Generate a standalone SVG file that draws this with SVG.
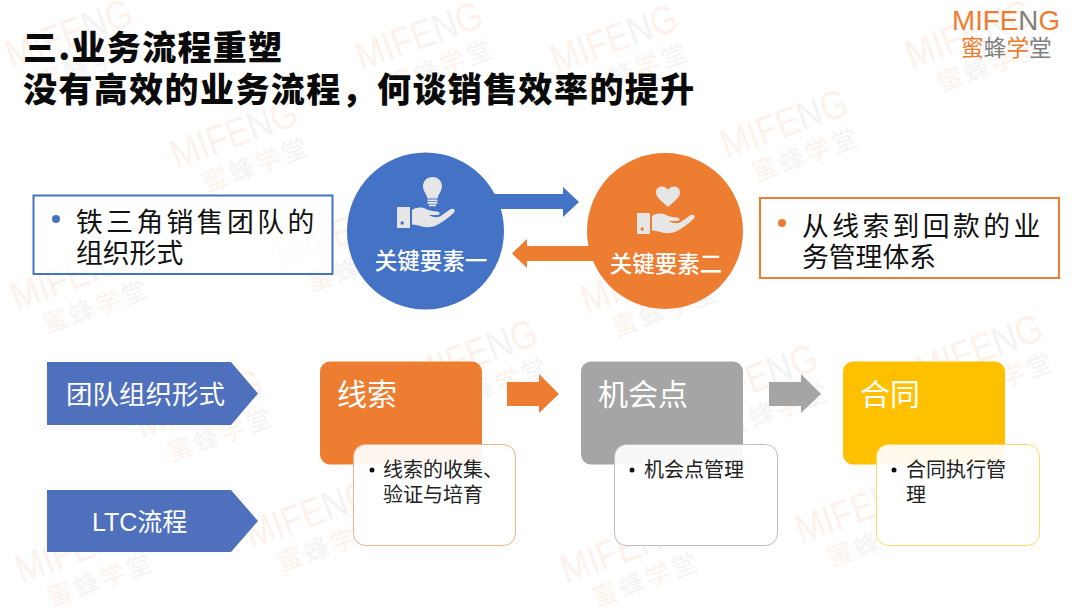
<svg xmlns="http://www.w3.org/2000/svg" width="1080" height="608" viewBox="0 0 1080 608">
<style>
text{font-family:"Noto Sans CJK SC","Noto Sans",sans-serif}
.lat{font-family:"Liberation Sans","Noto Sans CJK SC",sans-serif}
.t{font-size:26.800px;fill:#111}
.c{font-size:22.500px;fill:#fff;font-weight:500;text-anchor:middle}
.p{font-size:26.500px;fill:#fff}
.h{font-size:30px;fill:#fff}
.s{font-size:20px;fill:#222}
.ti{font-size:34px;font-weight:900;fill:#0a0a0a}
.o{fill:#ED7D31}.g{fill:#7F7F7F}
.icon{fill:#E7E6E6}
.wm text{opacity:.09}
</style>
<defs>
<g id="wm" class="wm">
<text x="-66" y="-4" class="lat" font-size="40" textLength="132" lengthAdjust="spacingAndGlyphs"><tspan fill="#ED7D31">MIF</tspan><tspan fill="#ED7D31">E</tspan><tspan fill="#7F7F7F">N</tspan><tspan fill="#ED7D31">G</tspan></text>
<text x="-46" y="28" font-size="25" letter-spacing="3"><tspan fill="#ED7D31">蜜</tspan><tspan fill="#7F7F7F">蜂</tspan><tspan fill="#ED7D31">学</tspan><tspan fill="#7F7F7F">堂</tspan></text>
</g>
<g id="hand">
<path fill-rule="evenodd" d="M-30 10h13v21h-13zM-26.500 26a1.700 1.700 0 1 0 3.400 0a1.700 1.700 0 1 0-3.400 0z"/>
<path d="M-15 13c5-3 10-3 14-1c3 1.500 7 2.500 11 2.500c3 0 3.500 3 1 3.500l-9 0c3 2 7 3 11 1.500l10-7c3-2 6 0 4 3c-5 5-12 10-18 13c-4 2-10 2-14 1c-3-1-7-2-10-2z"/>
</g>
</defs>
<rect width="1080" height="608" fill="#fff"/>
<g id="watermarks">
<use href="#wm" transform="translate(75 50) rotate(-20)"/>
<use href="#wm" transform="translate(425 52) rotate(-20)"/>
<use href="#wm" transform="translate(620 55) rotate(-20)"/>
<use href="#wm" transform="translate(975 50) rotate(-20)"/>
<use href="#wm" transform="translate(240 150) rotate(-20)"/>
<use href="#wm" transform="translate(790 140) rotate(-20)"/>
<use href="#wm" transform="translate(345 250) rotate(-20)"/>
<use href="#wm" transform="translate(80 292) rotate(-20)"/>
<use href="#wm" transform="translate(650 295) rotate(-20)"/>
<use href="#wm" transform="translate(985 365) rotate(-20)"/>
<use href="#wm" transform="translate(480 370) rotate(-20)"/>
<use href="#wm" transform="translate(205 420) rotate(-20)"/>
<use href="#wm" transform="translate(760 395) rotate(-20)"/>
<use href="#wm" transform="translate(315 530) rotate(-20)"/>
<use href="#wm" transform="translate(865 525) rotate(-20)"/>
<use href="#wm" transform="translate(85 565) rotate(-20)"/>
<use href="#wm" transform="translate(630 565) rotate(-20)"/>
</g>
<g id="title">
<text class="ti" x="23" y="60" letter-spacing="1.300">三.业务流程重塑</text>
<text class="ti" x="23" y="102" letter-spacing="1.400">没有高效的业务流程，何谈销售效率的提升</text>
</g>
<g id="logo">
<text x="952" y="30" class="lat" font-size="28" textLength="108" lengthAdjust="spacingAndGlyphs"><tspan class="o">MIF</tspan><tspan class="o">E</tspan><tspan class="g">N</tspan><tspan class="o">G</tspan></text>
<text x="961" y="56" font-size="22.700"><tspan class="o">蜜</tspan><tspan class="g">蜂</tspan><tspan class="o">学</tspan><tspan class="g">堂</tspan></text>
</g>
<g id="connectors">
<path fill="#4472C4" d="M485 194H563V187L579 202L563 217V209H485Z"/>
<path fill="#ED7D31" d="M610 246H527V239L512 253.500L527 268V261H610Z"/>
<path fill="#ED7D31" d="M507 382H539V374L559 394L539 413V406H507Z"/>
<path fill="#A5A5A5" d="M769 382H801V374L821 394L801 413V406H769Z"/>
</g>
<g id="box-left">
<rect x="33.500" y="195.500" width="299" height="78.500" fill="#fff" fill-opacity=".75" stroke="#4472C4" stroke-width="2"/>
<circle cx="56" cy="219" r="4" fill="#4472C4"/>
<text class="t" x="76" y="232" letter-spacing="3.400">铁三角销售团队的</text>
<text class="t" x="76" y="263">组织形式</text>
</g>
<g id="box-right">
<rect x="760" y="198" width="299" height="80" fill="#fff" fill-opacity=".75" stroke="#ED7D31" stroke-width="2"/>
<circle cx="782" cy="223" r="4" fill="#ED7D31"/>
<text class="t" x="802" y="236" letter-spacing="3.400">从线索到回款的业</text>
<text class="t" x="802" y="267">务管理体系</text>
</g>
<g id="key-1">
<circle cx="425.500" cy="231" r="78.500" fill="#4472C4"/>
<g class="icon">
<path d="M432.500 177c-5.500 0-9.500 4-9.500 9.500c0 4.500 3.500 7 4.500 12h10c1-5 4.500-7.500 4.500-12c0-5.500-4-9.500-9.500-9.500z"/>
<path d="M427.500 199.500h10v1.800h-10zM427.500 202h10v1.800h-10zM429 204.500h7v1.800h-7z"/>
<use href="#hand" transform="translate(427 197)"/>
</g>
<text class="c" x="431" y="269">关键要素一</text>
</g>
<g id="key-2">
<circle cx="665" cy="231" r="78" fill="#ED7D31"/>
<g class="icon">
<path d="M668 207c-5-5-12-9-12-14.500c0-3.500 2.500-6 5.800-6c2.800 0 4.800 1.500 6.200 3.500c1.400-2 3.400-3.500 6.200-3.500c3.300 0 5.800 2.500 5.800 6c0 5.500-7 9.500-12 14.500z"/>
<use href="#hand" transform="translate(667 203)"/>
</g>
<text class="c" x="666" y="272">关键要素二</text>
</g>
<g id="step-team">
<path fill="#4E70BD" d="M47 362H231L258 393.500L231 425H47Z"/>
<text class="p" x="66" y="404">团队组织形式</text>
</g>
<g id="step-ltc">
<path fill="#4E70BD" d="M47 490H231L258 521L231 552H47Z"/>
<text class="p lat" x="92" y="531" font-size="25" style="font-size:25px">LTC流程</text>
</g>
<g id="card-1">
<rect x="320" y="361.500" width="162" height="103" rx="10" fill="#ED7D31"/>
<text class="h" x="337" y="405">线索</text>
<rect x="353.500" y="444.500" width="162" height="101" rx="12" fill="#fff" fill-opacity=".92" stroke="#F4B183"/>
<circle cx="372" cy="470" r="2.500" fill="#111"/>
<text class="s" x="383" y="477">线索的收集、</text>
<text class="s" x="383" y="502">验证与培育</text>
</g>
<g id="card-2">
<rect x="581" y="361.500" width="162" height="103" rx="10" fill="#A5A5A5"/>
<text class="h" x="598" y="405">机会点</text>
<rect x="614.500" y="444.500" width="163" height="101" rx="12" fill="#fff" fill-opacity=".92" stroke="#BFBFBF"/>
<circle cx="632" cy="470" r="2.500" fill="#111"/>
<text class="s" x="644" y="477">机会点管理</text>
</g>
<g id="card-3">
<rect x="843" y="361.500" width="162" height="103" rx="10" fill="#FFC000"/>
<text class="h" x="860" y="405">合同</text>
<rect x="876.500" y="444.500" width="163" height="101" rx="12" fill="#fff" fill-opacity=".92" stroke="#FFD966"/>
<circle cx="894" cy="470" r="2.500" fill="#111"/>
<text class="s" x="906" y="477">合同执行管</text>
<text class="s" x="906" y="502">理</text>
</g>
</svg>
